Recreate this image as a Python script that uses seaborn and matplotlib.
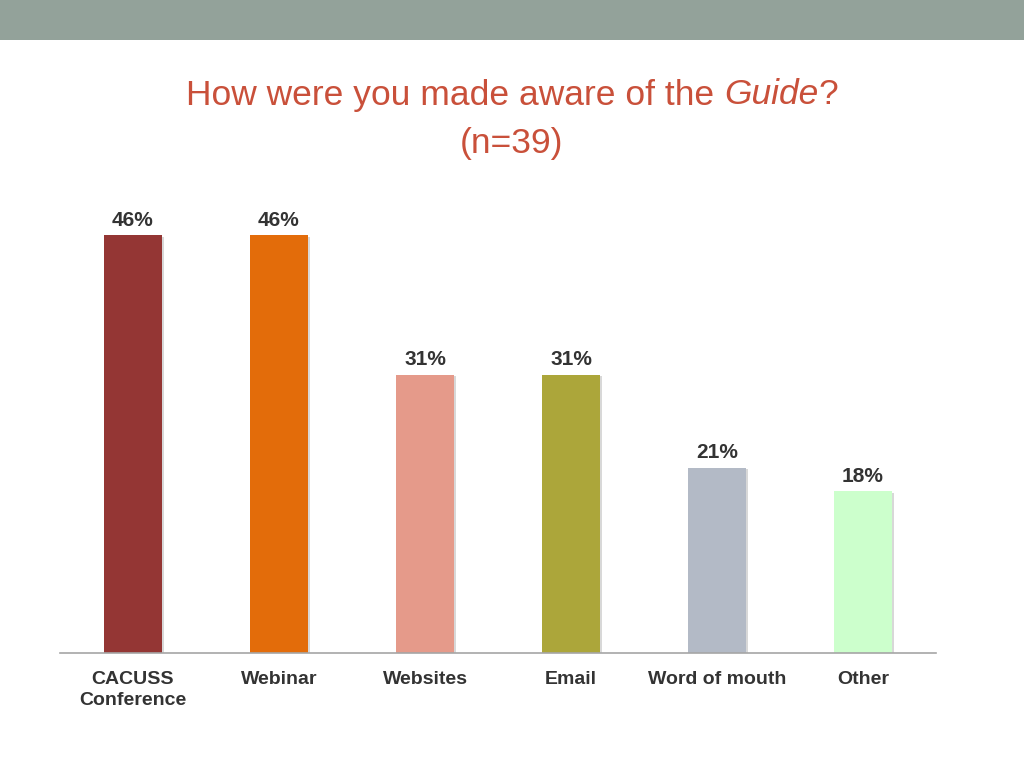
import matplotlib
matplotlib.use("Agg")
import matplotlib.pyplot as plt
import matplotlib.patheffects as pe
import pandas as pd
import seaborn as sns

categories = ["CACUSS\nConference", "Webinar", "Websites", "Email", "Word of mouth", "Other"]
percent = [46.2, 46.2, 30.8, 30.8, 20.5, 17.9]
bar_labels = ["46%", "46%", "31%", "31%", "21%", "18%"]
bar_colors = ["#943634", "#E36C0A", "#E59A8A", "#ACA63A", "#B3BAC6", "#CCFFCC"]

df = pd.DataFrame({"source": categories, "percent": percent})

sns.set_theme(style="white")
plt.rcParams['font.family'] = ['Liberation Sans', 'DejaVu Sans']

fig = plt.figure(figsize=(10.24, 7.68), dpi=100)

# grey header band
band = fig.add_axes([0, 1 - 40 / 768, 1, 40 / 768])
band.set_facecolor("#93A29A")
band.set_xticks([])
band.set_yticks([])
for s in band.spines.values():
    s.set_visible(False)

ax = fig.add_axes([60 / 1024, 115 / 768, 876 / 1024, 452 / 768])
sns.barplot(data=df, x="source", y="percent", hue="source", palette=bar_colors,
            legend=False, width=0.4, saturation=1, ax=ax)
for p in ax.patches:
    p.set_linewidth(0)
    p.set_path_effects([pe.SimplePatchShadow(offset=(1.5, -1), shadow_rgbFace="#666666", alpha=0.25),
                        pe.Normal()])

for cont, lab in zip(ax.containers, bar_labels):
    ax.bar_label(cont, labels=[lab], padding=4, fontsize=15, fontweight="bold", color="#333333")

ax.set_ylim(0, 50)
ax.set_xlim(-0.5, len(categories) - 0.5)
ax.set_yticks([])
ax.set_xlabel("")
ax.set_ylabel("")
for side in ["top", "right", "left"]:
    ax.spines[side].set_visible(False)
ax.spines["bottom"].set_color("#A6A6A6")
ax.spines["bottom"].set_linewidth(1.2)
ax.tick_params(axis="x", length=0, pad=13)
for t in ax.get_xticklabels():
    t.set_fontsize(14)
    t.set_fontweight("bold")
    t.set_color("#333333")
    t.set_linespacing(1.3)

# title, with "Guide" in italics
title_color = "#C9503A"
r = fig.canvas.get_renderer()
parts = [("How were you made aware of the ", "normal"), ("Guide", "italic"), ("?", "normal")]
objs = []
for txt, style in parts:
    objs.append(fig.text(0, 1 - 95 / 768, txt, ha="left", va="center", fontsize=25.5,
                         color=title_color, style=style))
widths = [o.get_window_extent(renderer=r).width for o in objs]
x = (1024 - sum(widths)) / 2
for o, w in zip(objs, widths):
    o.set_x(x / 1024)
    x += w
fig.text(0.5, 1 - 143 / 768, "(n=39)", ha="center", va="center", fontsize=25.5,
         color=title_color)

fig.savefig("out.png", dpi=100)
